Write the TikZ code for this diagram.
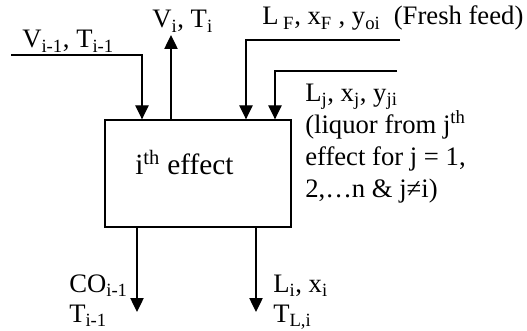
\documentclass[tikz,border=0pt]{standalone}
\usepackage{fontspec}
\setmainfont{Liberation Serif}
\usetikzlibrary{arrows,arrows.meta,positioning,calc}

\begin{document}
\begin{tikzpicture}[x=0.75pt,y=-0.75pt,
  flow/.style={-{Triangle[width=10pt,length=10.5pt]},line width=1pt},
  lbl/.style={inner sep=0pt,anchor=base west,font=\fontsize{20}{23.8}\selectfont}]
\useasboundingbox (0,0) rectangle (527,331);
% Effect
\node[rectangle,draw,line width=1pt,minimum width=139.5pt,minimum height=80.25pt] (eff) at (198,173.5) {};
\node[lbl,font=\fontsize{22}{26}\selectfont] (efftxt) at (135,175) {i\textsuperscript{th} effect};

% Streams in
\coordinate (vprev) at (11,55);
\coordinate (vprevin) at (142,0);
\coordinate (feed) at (400,40);
\coordinate (feedin) at (246,0);
\coordinate (liq) at (397,71);
\coordinate (liqin) at (275,0);
\draw[flow] (vprev) -| (vprevin |- eff.north);
\draw[flow] (feed) -| (feedin |- eff.north);
\draw[flow] (liq) -| (liqin |- eff.north);

% Streams out
\coordinate (vout) at (171,35);
\coordinate (coout) at (137,312);
\coordinate (lout) at (256,312);
\draw[flow] (vout |- eff.north) -- (vout);
\draw[flow] (coout |- eff.south) -- (coout);
\draw[flow] (lout |- eff.south) -- (lout);

% Labels (multi-line ones sit on their last line)
\node[lbl] (vprevlbl) at (22,48) {V\textsubscript{i-1}, T\textsubscript{i-1}};
\node[lbl] (voutlbl) at (152,28) {V\textsubscript{i}, T\textsubscript{i}};
\node[lbl] (feedlbl) at (262,25) {L\textsubscript{ F}, x\textsubscript{F} , y\textsubscript{oi}\ \ (Fresh feed)};
\node[lbl,align=left] (liqlbl) at (305,197) {L\textsubscript{j}, x\textsubscript{j}, y\textsubscript{ji}\\(liquor from j\textsuperscript{th}\\effect for j = 1,\\2,…n \& j≠i)};
\node[lbl,align=left,font=\fontsize{20}{22}\selectfont] (colbl) at (69,322) {CO\textsubscript{i-1}\\T\textsubscript{i-1}};
\node[lbl,align=left,font=\fontsize{20}{22}\selectfont] (loutlbl) at (273,322) {L\textsubscript{i}, x\textsubscript{i}\\T\textsubscript{L,i}};

\end{tikzpicture}
\end{document}
